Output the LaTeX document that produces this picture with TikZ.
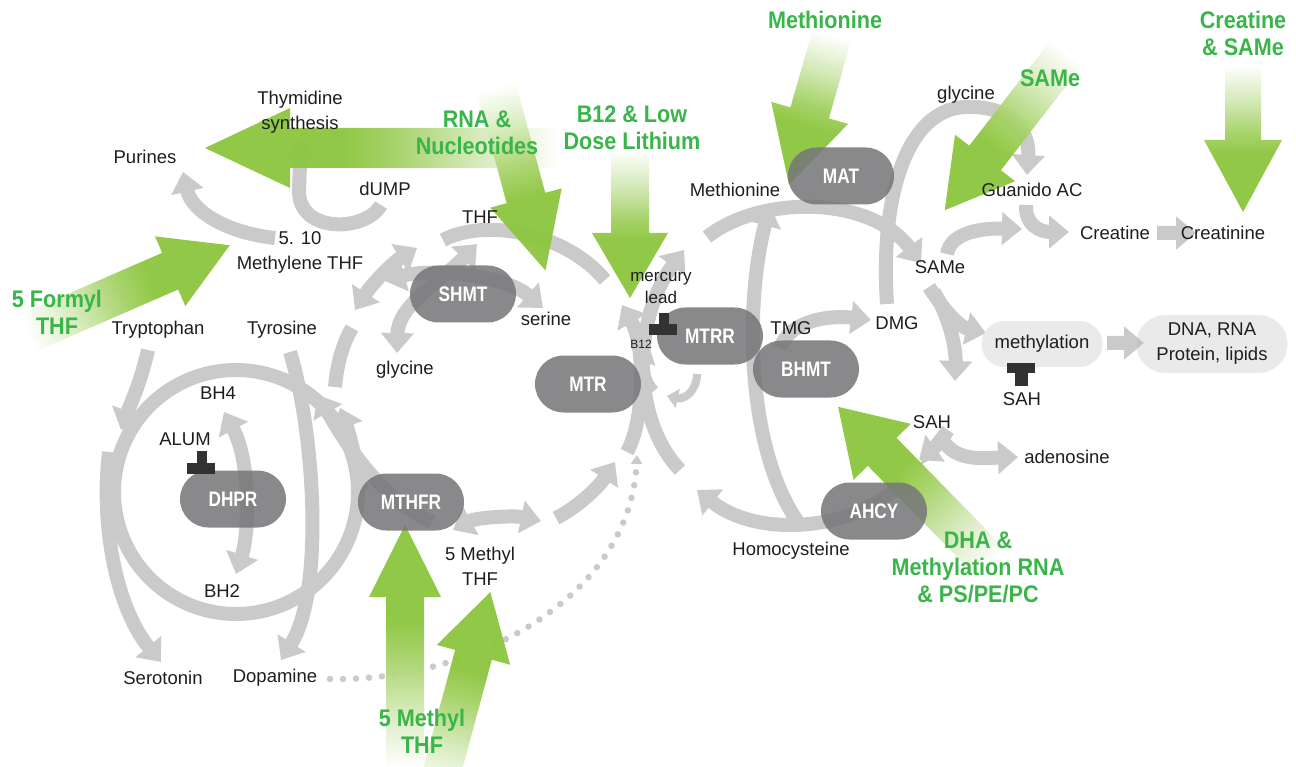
\documentclass[tikz,border=0pt]{standalone}
\usepackage{fontspec}
\setmainfont{Liberation Sans}
\newfontfamily\enzfont[FakeStretch=0.82]{Liberation Sans}
\newfontfamily\grfont[FakeStretch=0.9]{Liberation Sans}
\usetikzlibrary{arrows.meta,shapes.misc}
\definecolor{arrgray}{RGB}{182,182,182}
\definecolor{boxgray}{RGB}{118,118,121}
\definecolor{lightbox}{RGB}{234,234,234}
\definecolor{tbar}{RGB}{50,50,50}
\definecolor{grarrow}{RGB}{141,198,63}
\definecolor{grtext}{RGB}{57,181,74}
\definecolor{txt}{RGB}{30,30,30}
\colorlet{grA}{grarrow!35!white}
\colorlet{grB}{grarrow!80!white}
\pgfdeclarehorizontalshading{greenfade}{100bp}{color(0bp)=(white); color(25bp)=(white); color(36bp)=(grA); color(48bp)=(grB); color(55bp)=(grarrow); color(100bp)=(grarrow)}
\newcommand{\grarr}[7]{%
  \begin{scope}[transform canvas={shift={(#1,#2)},rotate=#3}]
    \shade[shading=greenfade,opacity=0.95] (0pt,-#6pt) -- (#5pt,-#6pt) -- (#5pt,-#7pt) -- (#4pt,0pt) -- (#5pt,#7pt) -- (#5pt,#6pt) -- (0pt,#6pt) -- cycle;
  \end{scope}}
\tikzset{
  gline/.style={draw=arrgray, line width=14pt},
  ga/.style={gline, -{Triangle[length=20pt,width=32pt]}},
  gda/.style={gline, {Triangle[length=20pt,width=32pt]}-{Triangle[length=20pt,width=32pt]}},
  gsmall/.style={draw=arrgray, line width=8pt, -{Triangle[length=11pt,width=19pt]}},
  gdots/.style={draw=arrgray, line width=6.5pt, line cap=round, dash pattern=on 0pt off 13pt, -{Triangle[length=9pt,width=11pt]}},
  enz/.style={rounded rectangle, fill=boxgray, fill opacity=0.86, text opacity=1, minimum width=106pt, minimum height=57pt, inner sep=0pt, text=white, font=\enzfont\bfseries\fontsize{21}{21}\selectfont},
  lbox/.style={rounded rectangle, fill=lightbox, inner sep=0pt, text=txt, align=center, font=\fontsize{18.5}{25}\selectfont},
  lbl/.style={text=txt, inner sep=0pt, align=center, font=\fontsize{18.5}{25}\selectfont},
  glbl/.style={text=grtext, inner sep=0pt, align=center, font=\grfont\bfseries\fontsize{24}{27}\selectfont},
  tb/.style={fill=tbar, draw=none}
}
\begin{document}
\begin{tikzpicture}[x=1pt,y=-1pt]
\path[use as bounding box, fill=white] (0,0) rectangle (1296,767);

% ---------- named end points ----------
\coordinate (mthfA) at (275,238);  \coordinate (purA) at (183,172);
\coordinate (dumpA) at (381,205);  \coordinate (thyA) at (301,138);
\coordinate (fA1) at (355,310);    \coordinate (fA2) at (417,248);
\coordinate (fT1) at (443,240);    \coordinate (fT2) at (605,280);
\coordinate (fL1) at (335,387);    \coordinate (fL2) at (352,328);
\coordinate (fR1) at (627,452);    \coordinate (fR2) at (622,305);
\coordinate (fB1) at (556,518);    \coordinate (fB2) at (615,462);
\coordinate (fM1) at (453,530);    \coordinate (fM2) at (541,521);
\coordinate (glyA) at (397,353);   \coordinate (thfA) at (477,244);
\coordinate (shL) at (385,281);    \coordinate (serA) at (543,308);
\coordinate (bhC) at (236,492);
\coordinate (bh4A) at (224,412);   \coordinate (bh2A) at (236,574);
\coordinate (trpA) at (148,350);   \coordinate (trpB) at (121,430);
\coordinate (serC) at (109,452);   \coordinate (serD) at (161,662);
\coordinate (tyrA) at (290,352);   \coordinate (dopA) at (281,660);
\coordinate (mtA) at (432,522);    \coordinate (mtB) at (318,395);
\coordinate (mtC) at (362,490);    \coordinate (mtD) at (340,408);
\coordinate (dotA) at (330,679);   \coordinate (dotB) at (637,455);
\coordinate (metA) at (707,237);   \coordinate (sameA) at (921,263);
\coordinate (hcyA) at (800,525);   \coordinate (metB) at (770,206);
\coordinate (hcyB) at (680,470);   \coordinate (metC) at (684,250);
\coordinate (ahA) at (905,480);    \coordinate (hcyC) at (697,490);
\coordinate (sahA) at (948,430);   \coordinate (sahB) at (919,460);
\coordinate (sameB) at (929,287);  \coordinate (methA) at (986,333);
\coordinate (sameC) at (934,292);  \coordinate (sahC) at (955,381);
\coordinate (sahD) at (943,440);   \coordinate (adeA) at (1018,457);
\coordinate (methB) at (1107,343); \coordinate (dnaA) at (1144,343);
\coordinate (tmgA) at (780,348);   \coordinate (dmgA) at (871,320);
\coordinate (dmgB) at (887,304);   \coordinate (gly2) at (965,107);  \coordinate (guaA) at (1027,175);
\coordinate (sameD) at (947,254);  \coordinate (creA) at (1022,229);
\coordinate (guaB) at (1026,205);  \coordinate (creB) at (1069,232);
\coordinate (creC) at (1157,233);  \coordinate (crnA) at (1196,233);
\coordinate (b12A) at (655,390);   \coordinate (b12B) at (651,352);
\coordinate (b12C) at (697,374);   \coordinate (b12D) at (667,396);

% ---------- grey arrows (one transparency group) ----------
\begin{scope}[transparency group, opacity=0.72]
\draw[ga] (mthfA) .. controls (228,233) and (192,212) .. (purA);
\draw[ga] (dumpA) .. controls (366,232) and (298,234) .. (299,190) -- (thyA);
\draw[gda] (fA1) .. controls (372,284) and (392,263) .. (fA2);
\draw[gline] (fT1) .. controls (485,218) and (565,232) .. (fT2);
\draw[gline] (fL1) .. controls (337,365) and (342,345) .. (fL2);
\draw[ga] (fR1) .. controls (645,420) and (645,345) .. (fR2);
\draw[ga] (fB1) .. controls (580,506) and (600,485) .. (fB2);
\draw[gda] (fM1) .. controls (475,518) and (512,515) .. (fM2);
\draw[gda] (glyA) .. controls (398,305) and (440,282) .. (thfA);
\draw[gda] (shL) .. controls (430,268) and (505,275) .. (serA);
\draw[gline] (bhC) circle[radius=122pt];
\draw[gda] (bh4A) .. controls (250,460) and (250,530) .. (bh2A);
\draw[ga] (trpA) .. controls (140,385) and (130,405) .. (trpB);
\draw[ga] (serC) .. controls (100,530) and (118,610) .. (serD);
\draw[ga] (tyrA) .. controls (314,430) and (325,590) .. (dopA);
\draw[ga] (mtA) .. controls (385,500) and (352,455) .. (mtB);
\draw[ga] (mtC) .. controls (356,462) and (350,435) .. (mtD);
\draw[gdots] (dotA) .. controls (470,682) and (630,600) .. (dotB);
\draw[ga] (metA) .. controls (760,195) and (870,195) .. (sameA);
\draw[ga] (hcyA) .. controls (745,450) and (745,300) .. (metB);
\draw[ga] (hcyB) .. controls (632,420) and (632,320) .. (metC);
\draw[ga] (ahA) .. controls (860,530) and (760,540) .. (hcyC);
\draw[ga] (sahA) .. controls (940,442) and (930,452) .. (sahB);
\draw[ga] (sameB) .. controls (945,312) and (960,327) .. (methA);
\draw[ga] (sameC) .. controls (952,322) and (956,352) .. (sahC);
\draw[ga] (sahD) .. controls (955,462) and (985,458) .. (adeA);
\draw[ga] (tmgA) .. controls (790,320) and (830,315) .. (dmgA);
\draw[ga] (dmgB) .. controls (880,200) and (905,110) .. (gly2) .. controls (1010,105) and (1030,130) .. (guaA);
\draw[ga] (sameD) .. controls (950,235) and (975,228) .. (creA);
\draw[ga] (guaB) .. controls (1025,225) and (1040,232) .. (creB);
\draw[ga] (creC) -- (crnA);
\draw[gsmall] (b12A) .. controls (645,380) and (645,365) .. (b12B);
\draw[gsmall] (b12C) .. controls (697,390) and (685,400) .. (b12D);
\end{scope}

% ---------- green arrows ----------
\grarr{560}{148}{180}{355}{270}{20}{40}
\grarr{496}{87}{-74.9}{190}{115}{20}{37}
\grarr{630}{150}{-90}{148}{83}{19}{38}
\grarr{832}{35}{-106}{156}{81}{20}{40}
\grarr{1067}{52}{-127.7}{200}{134}{20}{38}
\grarr{1243}{65}{-90}{147}{75}{18}{39}
\grarr{28}{333}{23.5}{220}{155}{20}{38}
\grarr{405}{767}{90}{242}{170}{19}{36}
\grarr{437}{790}{74.9}{205}{140}{19}{38}
\grarr{992}{564}{134.4}{220}{157}{20}{40}

% ---------- light boxes ----------
\node[lbox, minimum width=121pt, minimum height=46pt] (meth) at (1042,344) {methylation};
\node[lbox, minimum width=151pt, minimum height=58pt] (dna) at (1212,344) {DNA, RNA\\Protein, lipids};
\begin{scope}[transparency group, opacity=0.72]
\draw[ga] (methB) -- (dnaA);
\end{scope}

% ---------- enzymes ----------
\node[enz] (shmt) at (463,294) {SHMT};
\node[enz] (mtr) at (588,384) {MTR};
\node[enz] (mtrr) at (710,336) {MTRR};
\node[enz] (bhmt) at (806,369) {BHMT};
\node[enz] (mat) at (841,176) {MAT};
\node[enz] (dhpr) at (233,499) {DHPR};
\node[enz] (mthfr) at (411,502) {MTHFR};
\node[enz] (ahcy) at (874,511) {AHCY};

% ---------- inhibition bars ----------
\fill[tb] (197,451) rectangle (207,463);
\fill[tb] (187,463) rectangle (215,474);
\fill[tb] (659,313) rectangle (669,324);
\fill[tb] (649,324) rectangle (677,335);
\fill[tb] (1007,363) rectangle (1035,373);
\fill[tb] (1015,373) rectangle (1028,386);

% ---------- labels ----------
\node[lbl] (thy) at (300,112) {Thymidine\\synthesis};
\node[lbl] (pur) at (145,157) {Purines};
\node[lbl] (dump) at (385,189) {dUMP};
\node[lbl] (mthf) at (300,252) {5. 10\\Methylene THF};
\node[lbl] (thf) at (480,217) {THF};
\node[lbl] (trp) at (158,330) {Tryptophan};
\node[lbl] (tyr) at (282,330) {Tyrosine};
\node[lbl] (ser) at (546,319) {serine};
\node[lbl] (gly) at (405,370) {glycine};
\node[lbl] (bh4) at (218,393) {BH4};
\node[lbl] (alum) at (185,439) {ALUM};
\node[lbl] (bh2) at (222,591) {BH2};
\node[lbl] (sero) at (163,678) {Serotonin};
\node[lbl] (dopa) at (275,678) {Dopamine};
\node[lbl] (fmthf) at (480,566) {5 Methyl\\THF};
\node[lbl, font=\fontsize{17}{22}\selectfont] (merc) at (661,288) {mercury\\lead};
\node[lbl, font=\fontsize{12}{12}\selectfont] (b12) at (641,344) {B12};
\node[lbl] (tmg) at (791,328) {TMG};
\node[lbl] (dmg) at (897,323) {DMG};
\node[lbl] (met) at (735,190) {Methionine};
\node[lbl] (glyb) at (966,95) {glycine};
\node[lbl] (gua) at (1032,190) {Guanido AC};
\node[lbl] (cre) at (1115,233) {Creatine};
\node[lbl] (crn) at (1223,233) {Creatinine};
\node[lbl] (same) at (940,267) {SAMe};
\node[lbl] (saha) at (1022,399) {SAH};
\node[lbl] (sahb) at (932,422) {SAH};
\node[lbl] (ade) at (1067,457) {adenosine};
\node[lbl] (hcy) at (791,551) {Homocysteine};

% ---------- green labels ----------
\node[glbl] (gmet) at (825,20) {Methionine};
\node[glbl] (gcre) at (1243,33) {Creatine\\\& SAMe};
\node[glbl] (gsame) at (1050,78) {SAMe};
\node[glbl] (gb12) at (632,128) {B12 \& Low\\Dose Lithium};
\node[glbl] (grna) at (477,133) {RNA \&\\Nucleotides};
\node[glbl] (gdha) at (978,567) {DHA \&\\Methylation RNA\\\& PS/PE/PC};
\node[glbl] (gform) at (57,312) {5 Formyl\\THF};
\node[glbl] (gmeth) at (422,731) {5 Methyl\\THF};
\end{tikzpicture}
\end{document}
